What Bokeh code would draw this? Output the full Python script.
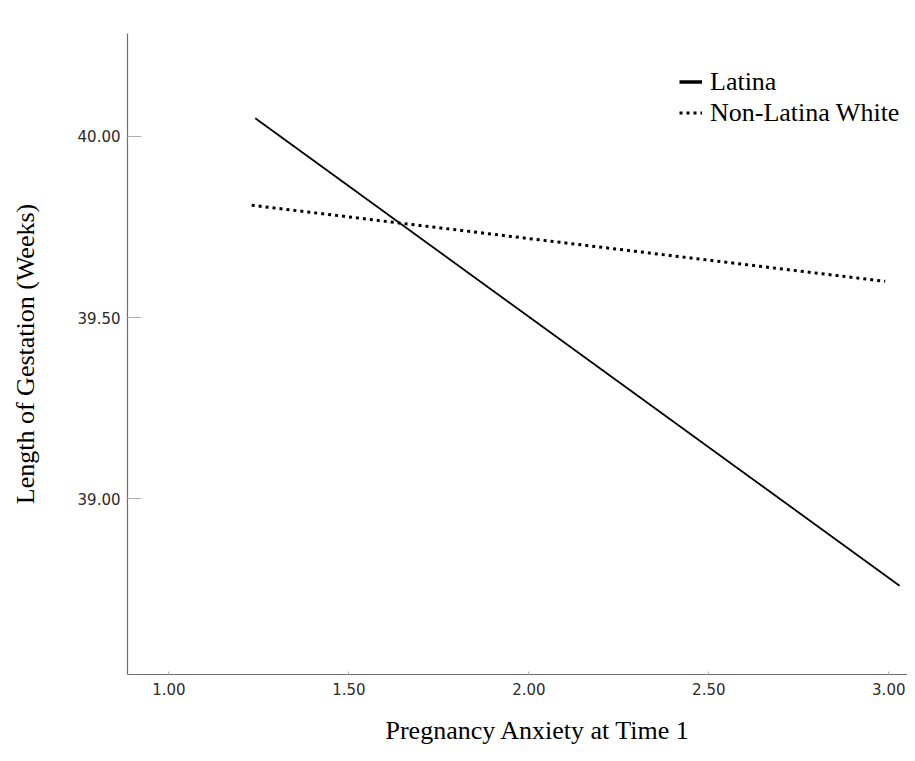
from bokeh.plotting import figure
from bokeh.models import (Range1d, FixedTicker, NumeralTickFormatter, Legend, LegendItem,
                          ColumnDataSource, Title)
from bokeh.embed import file_html
from bokeh.resources import INLINE

# Data
latina_x = [1.24, 3.03]
latina_y = [40.05, 38.76]
nlw_x = [1.23, 2.99]
nlw_y = [39.81, 39.60]
x_ticks = [1.0, 1.5, 2.0, 2.5, 3.0]
y_ticks = [39.0, 39.5, 40.0]
series_names = ["Latina", "Non-Latina White"]
x_title = "Pregnancy Anxiety at Time 1"
y_title = "Length of Gestation (Weeks)"

SERIF = "Liberation Serif"
SANS = "DejaVu Sans"

p = figure(width=907, height=761, output_backend="svg", toolbar_location=None,
           x_range=Range1d(0.885, 3.052), y_range=Range1d(38.515, 40.284),
           min_border_left=127, min_border_right=0, min_border_top=33, min_border_bottom=87)

p.background_fill_color = "white"
p.border_fill_color = "white"
p.outline_line_color = None
p.xgrid.visible = False
p.ygrid.visible = False

r1 = p.line(latina_x, latina_y, line_color="black", line_width=1.8)
r2 = p.line(nlw_x, nlw_y, line_color="black", line_width=3, line_dash="3 4")

# legend swatches (single-point sources draw nothing in the plot, only the legend glyphs)
lg1 = p.line(x="x", y="y", source=ColumnDataSource(dict(x=latina_x[:1], y=latina_y[:1])),
             line_color="black", line_width=3.5)
lg2 = p.line(x="x", y="y", source=ColumnDataSource(dict(x=nlw_x[:1], y=nlw_y[:1])),
             line_color="black", line_width=3, line_dash="3 4")

legend = Legend(items=[LegendItem(label=series_names[0], renderers=[lg1]),
                       LegendItem(label=series_names[1], renderers=[lg2])],
                location=(552, 546), border_line_color=None, background_fill_alpha=0,
                padding=0, margin=0, spacing=0, glyph_width=23, glyph_height=31,
                label_height=31, label_standoff=8,
                label_text_font=SERIF, label_text_font_size="26px", label_text_color="black")
p.add_layout(legend, "center")

for ax in (p.xaxis[0], p.yaxis[0]):
    ax.axis_line_color = "#6e6e6e"
    ax.axis_line_width = 1.2
    ax.major_tick_line_color = "#b0b0b0"
    ax.minor_tick_line_color = None
    ax.major_tick_out = 0
    ax.major_label_text_font = SANS
    ax.major_label_text_font_size = "15px"
    ax.major_label_text_color = "#2a2a2a"

p.xaxis.ticker = FixedTicker(ticks=x_ticks)
p.yaxis.ticker = FixedTicker(ticks=y_ticks)
p.xaxis.formatter = NumeralTickFormatter(format="0.00")
p.yaxis.formatter = NumeralTickFormatter(format="0.00")
p.xaxis.major_tick_in = 3
p.yaxis.major_tick_in = 14
p.xaxis.major_label_standoff = 8
p.yaxis.major_label_standoff = 7

p.yaxis.axis_label = y_title
p.yaxis.axis_label_text_font = SERIF
p.yaxis.axis_label_text_font_size = "26px"
p.yaxis.axis_label_text_font_style = "normal"
p.yaxis.axis_label_text_color = "black"
p.yaxis.axis_label_standoff = 35

p.add_layout(Title(text=x_title, align="left", offset=258, standoff=32,
                   text_font=SERIF, text_font_size="26px", text_font_style="normal",
                   text_color="black"), "below")

open("out.html", "w").write(file_html(p, INLINE))
